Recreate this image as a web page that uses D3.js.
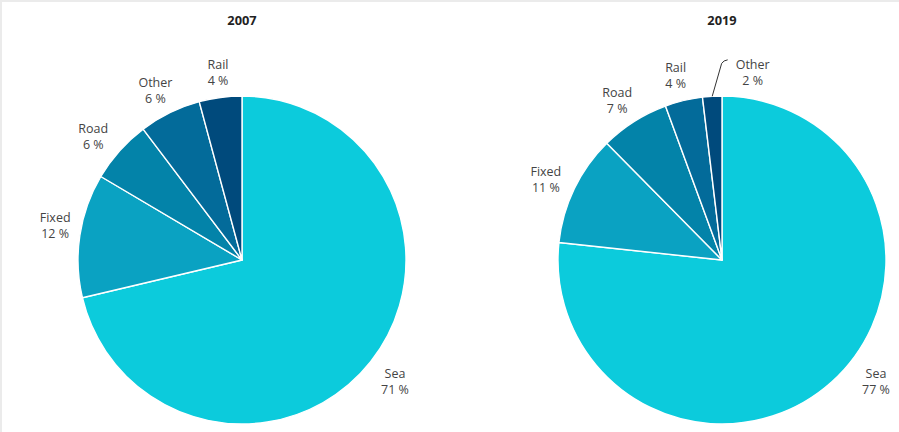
<!DOCTYPE html>
<html>
<head>
<meta charset="utf-8">
<script src="https://cdn.jsdelivr.net/npm/d3@7"></script>
<style>
  html, body { margin: 0; padding: 0; background: #fff; }
  svg { display: block; }
</style>
</head>
<body>
<svg id="chart" width="899" height="432"></svg>
<script>
// ---- data ----
const years = ["2007", "2019"];
const categories2007 = ["Sea", "Fixed", "Road", "Other", "Rail"];
const values2007 = [71.3, 12.2, 6.2, 6.1, 4.2];
const labels2007 = ["71 %", "12 %", "6 %", "6 %", "4 %"];
const categories2019 = ["Sea", "Fixed", "Road", "Rail", "Other"];
const values2019 = [76.7, 10.9, 6.8, 3.7, 1.9];
const labels2019 = ["77 %", "11 %", "7 %", "4 %", "2 %"];

// ---- styling / layout ----
const rankColors = ["#0ccbdc", "#0aa2c2", "#0383a9", "#036b9a", "#004a7c"];
const W = 899, H = 432;
const radius = 164, labelRadius = 190, cy = 260;
const panels = [
  { year: years[0], cats: categories2007, vals: values2007, labs: labels2007, cx: 242,
    nudge: [[4, 4], [1, -6], [-7, 3], [-3, 1], [1, 1]], leader: [] },
  { year: years[1], cats: categories2019, vals: values2019, labs: labels2019, cx: 722,
    nudge: [[27, -20], [-5, 2], [-3, 1], [-2, 0], [42, 2]], leader: [4] }
];

const svg = d3.select("#chart");
svg.append("rect").attr("x", 0).attr("y", 0).attr("width", W).attr("height", H).attr("fill", "#fff");
svg.append("rect").attr("x", 0).attr("y", 0).attr("width", W).attr("height", 2).attr("fill", "#ebebeb");
svg.append("rect").attr("x", 0).attr("y", 0).attr("width", 2).attr("height", H).attr("fill", "#ebebeb");

const pie = d3.pie().sort(null).value(d => d.v);
const arc = d3.arc().innerRadius(0).outerRadius(radius);
const font = "'Open Sans', 'Noto Sans', sans-serif";
const fs = 12.5;

panels.forEach(p => {
  const data = p.cats.map((c, i) => ({ c, v: p.vals[i], lab: p.labs[i], i }));
  const arcs = pie(data);
  const g = svg.append("g").attr("transform", `translate(${p.cx},${cy})`);

  g.selectAll("path.slice").data(arcs).join("path")
    .attr("class", "slice")
    .attr("d", arc)
    .attr("fill", d => rankColors[d.index])
    .attr("stroke", "#fff")
    .attr("stroke-width", 1.4)
    .attr("stroke-linejoin", "round");

  svg.append("text")
    .attr("x", p.cx).attr("y", 25)
    .attr("text-anchor", "middle")
    .attr("font-family", font).attr("font-weight", "bold")
    .attr("font-size", 12.8).attr("fill", "#222")
    .text(p.year);

  arcs.forEach((d, k) => {
    const mid = (d.startAngle + d.endAngle) / 2;
    const lx = Math.sin(mid) * labelRadius + p.nudge[k][0];
    const ly = -Math.cos(mid) * labelRadius + p.nudge[k][1];
    const t = g.append("text")
      .attr("text-anchor", "middle")
      .attr("font-family", font).attr("font-size", fs).attr("fill", "#444");
    t.append("tspan").attr("x", lx).attr("y", ly - 3.5).text(d.data.c);
    t.append("tspan").attr("x", lx).attr("y", ly + 12.5).text(d.data.lab);

    if (p.leader.includes(k)) {
      const x0 = Math.sin(mid) * radius, y0 = -Math.cos(mid) * radius;
      const x1 = lx - 26, y1 = ly - 11;
      const path = d3.path();
      path.moveTo(x0, y0);
      path.lineTo(x1 - 5, y1 + 2);
      path.quadraticCurveTo(x1 - 3, y1 - 1, x1 + 1, y1 - 1.5);
      g.append("path").attr("d", path.toString())
        .attr("fill", "none").attr("stroke", "#333").attr("stroke-width", 1);
    }
  });
});
</script>
</body>
</html>
